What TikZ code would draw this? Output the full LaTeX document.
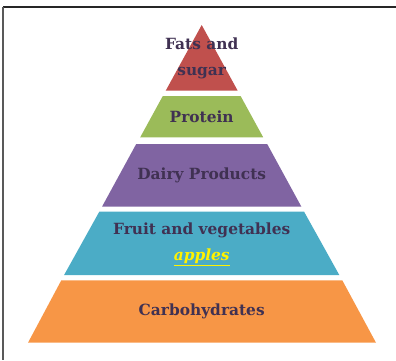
\documentclass[tikz,border=0pt]{standalone}
\usepackage{fontspec}
\setmainfont{DejaVu Serif}
\definecolor{txt}{HTML}{403152}
\definecolor{tierred}{HTML}{C0504D}
\definecolor{tiergreen}{HTML}{9BBB59}
\definecolor{tierpurple}{HTML}{8064A2}
\definecolor{tierblue}{HTML}{4BACC6}
\definecolor{tierorange}{HTML}{F79646}
\tikzset{
  tier/.style={draw=none},
  label/.style={text=txt, font=\bfseries\fontsize{15.4}{26}\selectfont, align=center, inner sep=0pt},
}
\begin{document}
\begin{tikzpicture}[x=1pt,y=-1pt]
\useasboundingbox (0,0) rectangle (396,360);
% frame
\draw[line width=2pt, color=black!85] (3,7.3) -- (396,7.3);
\draw[line width=2pt, color=black!65] (3,7.3) -- (3,360);
% pyramid tiers
\fill[tier, tierred] (201.7,25) -- (237.7,90.7) -- (165.7,90.7) -- cycle;
\fill[tier, tiergreen] (162.8,96) -- (240.6,96) -- (263.2,137.3) -- (140.2,137.3) -- cycle;
\fill[tier, tierpurple] (136.2,144) -- (267.2,144) -- (301.4,206.7) -- (102,206.7) -- cycle;
\fill[tier, tierblue] (99.3,211.7) -- (304.1,211.7) -- (339.3,275) -- (64.1,275) -- cycle;
\fill[tier, tierorange] (61.3,280.3) -- (342.3,280.3) -- (376,342.7) -- (28,342.7) -- cycle;
% labels
\node[label] (fats) at (201.7,58) {Fats and\\sugar};
\node[label] (protein) at (201.7,116.5) {Protein};
\node[label] (dairy) at (201.7,175) {Dairy Products};
\node[label] (fruit) at (201.7,230) {Fruit and vegetables};
\node[label, text=yellow, font=\bfseries\itshape\fontsize{15.4}{26}\selectfont] (apples) at (201.7,257) {\underline{apples}};
\node[label] (carbs) at (201.7,311.5) {Carbohydrates};
\end{tikzpicture}
\end{document}
